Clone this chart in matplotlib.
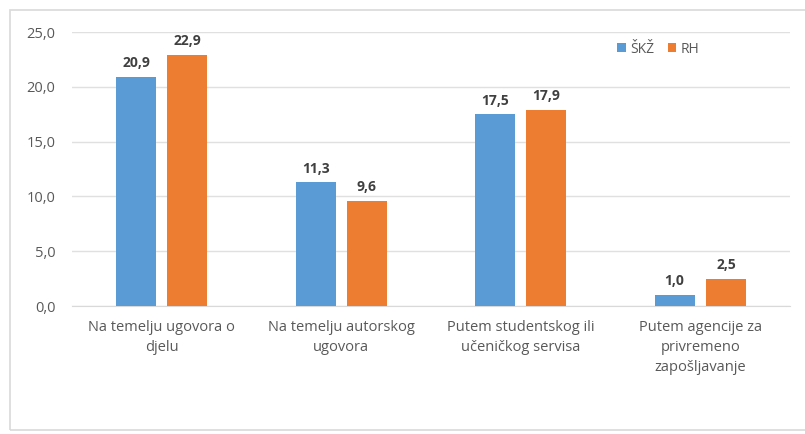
import numpy as np
import matplotlib
matplotlib.use("Agg")
from matplotlib import pyplot as plt
from matplotlib.patches import Rectangle

# data
categories = ["Na temelju ugovora o\ndjelu", "Na temelju autorskog\nugovora",
              "Putem studentskog ili\nučeničkog servisa",
              "Putem agencije za\nprivremeno\nzapošljavanje"]
skz = [20.9, 11.3, 17.5, 1.0]
rh = [22.9, 9.6, 17.9, 2.5]
series_names = ["ŠKŽ", "RH"]

blue = "#5B9BD5"
orange = "#ED7D31"
txt = "#595959"

plt.rcParams['font.family'] = ['Open Sans', 'DejaVu Sans']

fig = plt.figure(figsize=(8.05, 4.34), dpi=100)
ax = fig.add_axes([72/805, 1-306/434, 718/805, 274/434])

# outer frame like the screenshot
fig.patches.append(Rectangle((10/805, 4/434), 1.0, 1-14/434, transform=fig.transFigure,
                             fill=False, edgecolor="#d9d9d9", linewidth=1.2))

x = np.arange(len(categories))
w = 0.223
off = 0.143
b1 = ax.bar(x - off, skz, w, color=blue, label=series_names[0], zorder=3)
b2 = ax.bar(x + off, rh, w, color=orange, label=series_names[1], zorder=3)

for bars, vals in ((b1, skz), (b2, rh)):
    for b, v in zip(bars, vals):
        ax.text(b.get_x() + b.get_width()/2, v + 0.6, f"{v:.1f}".replace(".", ","),
                ha="center", va="bottom", fontsize=10, fontweight="bold", color="#404040")

ax.set_xlim(-0.5, 3.5)
ax.set_ylim(0, 25)
ax.set_yticks(np.arange(0, 26, 5))
ax.set_yticklabels([f"{t:.1f}".replace(".", ",") for t in np.arange(0, 26, 5)])
ax.set_xticks(x)
ax.set_xticklabels(categories, linespacing=1.45)
ax.tick_params(axis="both", length=0, colors=txt, labelsize=10.5)
ax.tick_params(axis="x", pad=10)
ax.tick_params(axis="y", pad=12)
ax.grid(axis="y", color="#e0e0e0", linewidth=1, zorder=0)
for s in ("top", "right", "left"):
    ax.spines[s].set_visible(False)
ax.spines["bottom"].set_color("#d9d9d9")

ax.legend(loc="upper left", bbox_to_anchor=(0.742, 1.01), ncol=2, frameon=False,
          fontsize=10, handlelength=0.6, handleheight=0.6, handletextpad=0.3,
          columnspacing=1.0, labelcolor=txt)

fig.savefig("out.png", dpi=100)
